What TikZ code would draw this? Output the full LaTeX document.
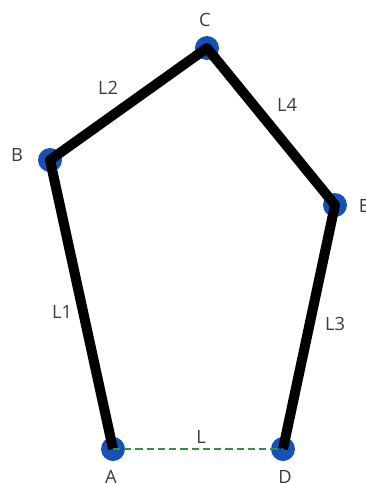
\documentclass[tikz,border=0pt]{standalone}
\usepackage{fontspec}
\setmainfont{Open Sans}
\usepackage{tikz}
\usetikzlibrary{positioning,calc}
\definecolor{jointblue}{RGB}{22,82,182}
\definecolor{baseGreen}{RGB}{40,150,60}
\definecolor{labelgray}{RGB}{60,60,60}
\tikzset{
  joint/.style={circle, fill=jointblue, inner sep=0pt, minimum size=0.6cm},
  link/.style={line width=0.25cm, draw=black, line join=round},
  baseline dash/.style={draw=baseGreen, line width=1.3pt, dash pattern=on 5pt off 3pt},
  lbl/.style={text=labelgray, inner sep=0pt, font=\fontsize{13}{15}\selectfont},
}

\begin{document}
\begin{tikzpicture}[x=0.025cm, y=-0.025cm]
\useasboundingbox (0,0) rectangle (366,483);
% joints
\node[joint] (A) at (113,449) {};
\node[joint] (B) at (50,160) {};
\node[joint] (C) at (207,48) {};
\node[joint] (E) at (335,205) {};
\node[joint] (D) at (283,449) {};
% links
\draw[link] (A.center) -- (B.center) -- (C.center) -- (E.center) -- (D.center);
\draw[baseline dash] (A.center) -- (D.center);
% joint names
\node[lbl] (lA) at (111,477) {A};
\node[lbl] (lB) at (17,155) {B};
\node[lbl] (lC) at (205,20) {C};
\node[lbl] (lE) at (364,206) {E};
\node[lbl] (lD) at (285,477) {D};
% link names
\node[lbl] (l1) at (62,312) {L1};
\node[lbl] (l2) at (108,88) {L2};
\node[lbl] (l3) at (335,324) {L3};
\node[lbl] (l4) at (287,105) {L4};
\node[lbl] (l0) at (201,437) {L};
\end{tikzpicture}
\end{document}
